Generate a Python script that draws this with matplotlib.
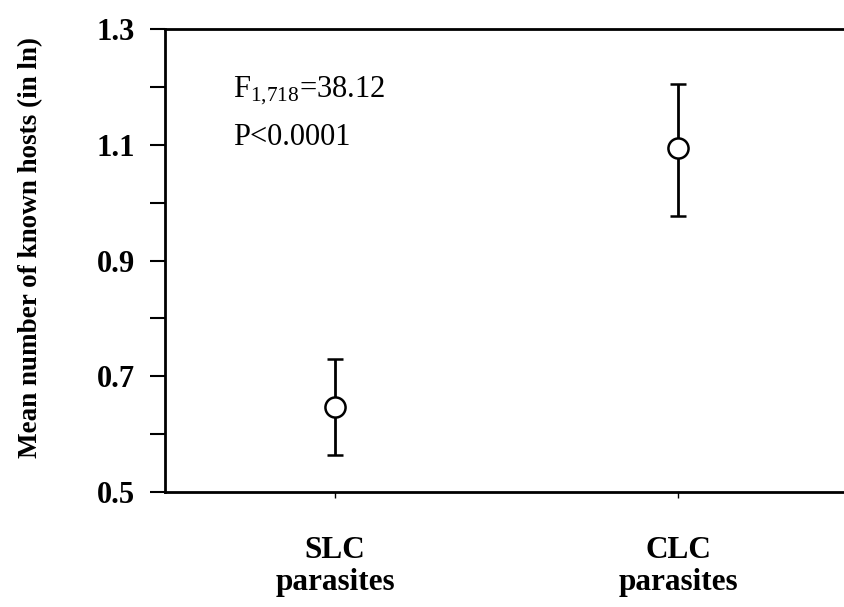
import matplotlib
matplotlib.use('Agg')
from matplotlib import pyplot as plt

groups = ['SLC\nparasites', 'CLC\nparasites']
means = [0.647, 1.094]
upper = [0.730, 1.205]
lower = [0.564, 0.977]

plt.rcParams['font.family'] = ['Liberation Serif', 'DejaVu Serif']
plt.rcParams['mathtext.fontset'] = 'custom'
plt.rcParams['mathtext.rm'] = 'Liberation Serif'
plt.rcParams['mathtext.it'] = 'Liberation Serif:italic'

xpos = [1, 2]
err = [[m - lo for m, lo in zip(means, lower)],
       [u - m for m, u in zip(means, upper)]]

fig = plt.figure(figsize=(8.44, 6.07), dpi=100)
ax = fig.add_axes([0.1955, 0.1895, 0.8045, 0.7625])

ax.errorbar(xpos, means, yerr=err, fmt='o', color='black', ecolor='black',
            elinewidth=2.0, capsize=5.5, capthick=2.0, markersize=14.5,
            markerfacecolor='white', markeredgecolor='black',
            markeredgewidth=1.8, zorder=3)

ax.set_xlim(0.504, 2.484)
ax.set_ylim(0.5, 1.3)
ax.set_yticks([0.5, 0.7, 0.9, 1.1, 1.3])
ax.set_yticks([0.6, 0.8, 1.0, 1.2], minor=True)
ax.set_yticklabels(['0.5', '0.7', '0.9', '1.1', '1.3'], fontsize=22,
                   fontweight='bold')
ax.set_xticks(xpos)
ax.set_xticklabels(groups, fontsize=22.5, fontweight='bold', linespacing=1.1)

ax.spines['right'].set_visible(False)
for s in ['left', 'top', 'bottom']:
    ax.spines[s].set_linewidth(2.0)

ax.tick_params(axis='y', which='both', direction='out', length=10.8,
               width=1.5, pad=11)
ax.tick_params(axis='x', direction='out', length=4, width=1.0, pad=28)

ax.set_ylabel('Mean number of known hosts (in ln)', fontsize=19.5,
              fontweight='bold')
ax.yaxis.set_label_coords(-0.18, 0.529)

# stats text, subscript without the mathtext comma space
ax.text(0.703, 1.182, r'$\mathrm{F}_{\mathrm{1{,}718}}$=38.12', fontsize=22,
        va='baseline')
ax.text(0.703, 1.099, 'P<0.0001', fontsize=22, va='baseline')

fig.savefig('out.png', dpi=100)
